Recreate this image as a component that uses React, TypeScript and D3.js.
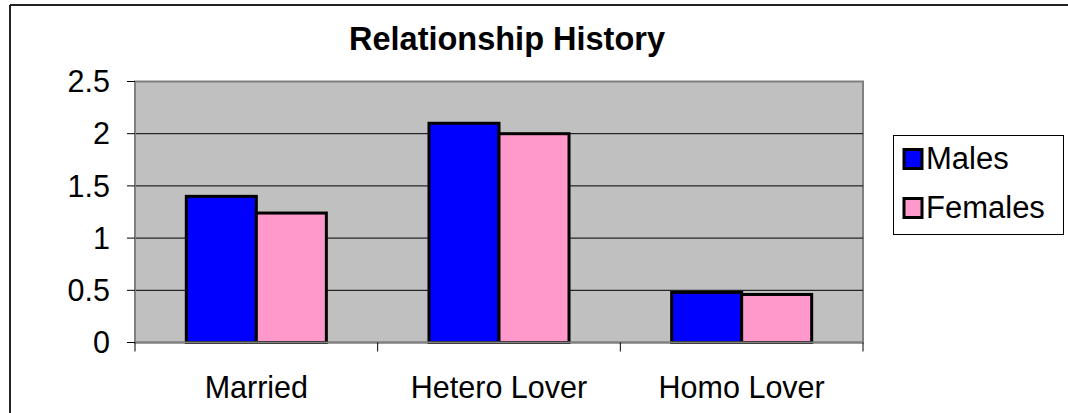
import React from "react";
import * as d3 from "d3";

const categories = ["Married", "Hetero Lover", "Homo Lover"];
const seriesNames = ["Males", "Females"];
const males = [1.4, 2.1, 0.48];
const females = [1.24, 2.0, 0.46];
const yTicks = [0, 0.5, 1, 1.5, 2, 2.5];
const colors = ["#0000FF", "#FF99CC"];

const W = 1068;
const H = 413;
const plot = { left: 135, right: 863, top: 81.5, bottom: 342.5 };
const FONT = "Arial, 'Liberation Sans', sans-serif";

export default function App() {
  const x0 = d3.scaleBand<string>().domain(categories).range([plot.left, plot.right]).padding(0);
  const x1 = d3
    .scaleBand<string>()
    .domain(seriesNames)
    .range([0, x0.bandwidth()])
    .paddingInner(0)
    .paddingOuter(0.733);
  const y = d3.scaleLinear().domain([0, 2.5]).range([plot.bottom, plot.top]);
  const values = [males, females];
  const xTickPos = [plot.left, ...categories.map((c) => (x0(c) as number) + x0.bandwidth())];

  return (
    <svg
      width={W}
      height={H}
      style={{ position: "absolute", left: 0, top: 0, display: "block", background: "#fff" }}
      fontFamily={FONT}
    >
      {/* outer chart border */}
      <line x1={10} y1={5} x2={W} y2={5} stroke="#222" strokeWidth={2} />
      <line x1={10} y1={5} x2={10} y2={H} stroke="#222" strokeWidth={2} />

      {/* title */}
      <text x={507} y={50} textAnchor="middle" fontSize={32.5} fontWeight="bold" fill="#000">
        Relationship History
      </text>

      {/* plot area */}
      <rect
        x={plot.left}
        y={plot.top}
        width={plot.right - plot.left}
        height={plot.bottom - plot.top}
        fill="#C0C0C0"
        stroke="#808080"
        strokeWidth={2}
      />

      {/* gridlines */}
      {yTicks
        .filter((t) => t > 0 && t < 2.5)
        .map((t) => (
          <line key={"g" + t} x1={plot.left} x2={plot.right} y1={y(t)} y2={y(t)} stroke="#000" strokeWidth={1} />
        ))}

      {/* bars */}
      {categories.map((c, ci) =>
        seriesNames.map((s, si) => {
          const bx = (x0(c) as number) + (x1(s) as number);
          const by = y(values[si][ci]);
          return (
            <rect
              key={c + s}
              x={bx}
              y={by}
              width={x1.bandwidth()}
              height={plot.bottom - by}
              fill={colors[si]}
              stroke="#000"
              strokeWidth={3}
            />
          );
        })
      )}

      {/* axes */}
      <line x1={plot.left} x2={plot.right} y1={plot.bottom} y2={plot.bottom} stroke="#808080" strokeWidth={2} />
      <line x1={plot.left} x2={plot.left} y1={plot.top} y2={plot.bottom} stroke="#808080" strokeWidth={2} />
      {yTicks.map((t) => (
        <g key={"y" + t}>
          <line x1={127} x2={plot.left} y1={y(t)} y2={y(t)} stroke="#000" strokeWidth={1} />
          <text x={110} y={y(t)} dy="0.35em" textAnchor="end" fontSize={30.5} fill="#000">
            {String(t)}
          </text>
        </g>
      ))}
      {xTickPos.map((px, i) => (
        <line key={"xt" + i} x1={px} x2={px} y1={plot.bottom} y2={plot.bottom + 9} stroke="#000" strokeWidth={1} />
      ))}
      {categories.map((c) => (
        <text
          key={"xl" + c}
          x={(x0(c) as number) + x0.bandwidth() / 2}
          y={397.5}
          textAnchor="middle"
          fontSize={30.5}
          fill="#000"
        >
          {c}
        </text>
      ))}

      {/* legend */}
      <rect x={893.5} y={135.5} width={170} height={99} fill="#fff" stroke="#000" strokeWidth={1} />
      {seriesNames.map((s, i) => (
        <g key={"lg" + s}>
          <rect
            x={904}
            y={149.5 + i * 49}
            width={18}
            height={19}
            fill={colors[i]}
            stroke="#000"
            strokeWidth={3}
          />
          <text x={926} y={169 + i * 49} fontSize={31} fill="#000">
            {s}
          </text>
        </g>
      ))}
    </svg>
  );
}
